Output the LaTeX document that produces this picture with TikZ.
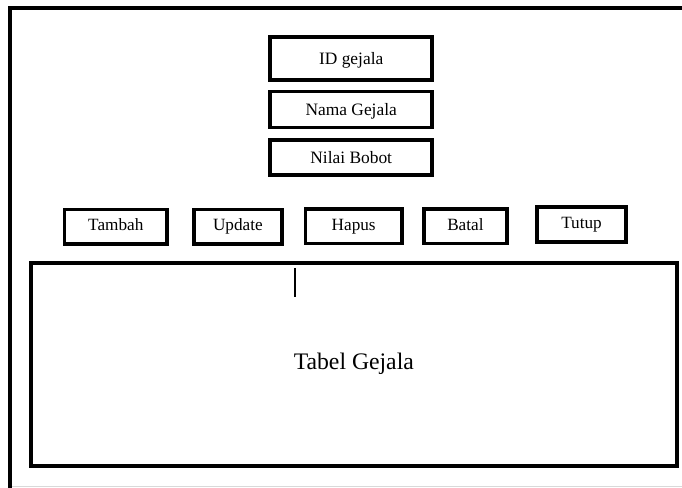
\documentclass[tikz,border=0pt]{standalone}
\usepackage{fontspec}
\setmainfont{Liberation Serif}
\begin{document}
\begin{tikzpicture}[x=1pt,y=-1pt,
  box/.style={draw=black,line width=3.6pt,rectangle,inner sep=0pt,
    text height=0.75em,text depth=0pt,align=center},
  field/.style={box,minimum width=162pt,text height=1.15em,
    font=\fontsize{17.4}{20}\selectfont},
  btn/.style={box,minimum height=34.5pt,font=\fontsize{17.2}{20}\selectfont}]
  \useasboundingbox (0,0) rectangle (682,487);
  \fill[white] (0,0) rectangle (682,487);

  % window frame: only its left and top edges fall inside the view
  \draw[line width=4pt,line cap=rect] (10,490) -- (10,8) -- (690,8);
  \draw[gray!30,line width=1pt] (12,486) -- (682,486);

  % input fields
  \node[field,minimum height=43pt] (idg) at (351.2,58.4) {ID gejala};
  \node[field,minimum height=36pt] (nama) at (351.2,109.5) {Nama Gejala};
  \node[field,minimum height=35pt] (bobot) at (351.2,157.5) {Nilai Bobot};

  % buttons
  \node[btn,minimum width=102.5pt] (tambah) at (115.8,226.6) {Tambah};
  \node[btn,minimum width=88.3pt] (update) at (237.9,226.6) {Update};
  \node[btn,minimum width=96.7pt] (hapus) at (353.7,226.4) {Hapus};
  \node[btn,minimum width=83.3pt] (batal) at (465.4,226.4) {Batal};
  \node[btn,minimum width=89pt,minimum height=35pt] (tutup) at (581.5,224.5) {Tutup};

  % table area
  \node[box,line width=4pt,minimum width=645.5pt,minimum height=203pt,
    text height=0.91em,font=\fontsize{23.7}{28}\selectfont] (tabel) at (353.8,364.5) {Tabel Gejala};

  % text cursor
  \coordinate (curtop) at (295,268);
  \coordinate (curbot) at (295,297);
  \draw[line width=1.3pt] (curtop) -- (curbot);
\end{tikzpicture}
\end{document}
